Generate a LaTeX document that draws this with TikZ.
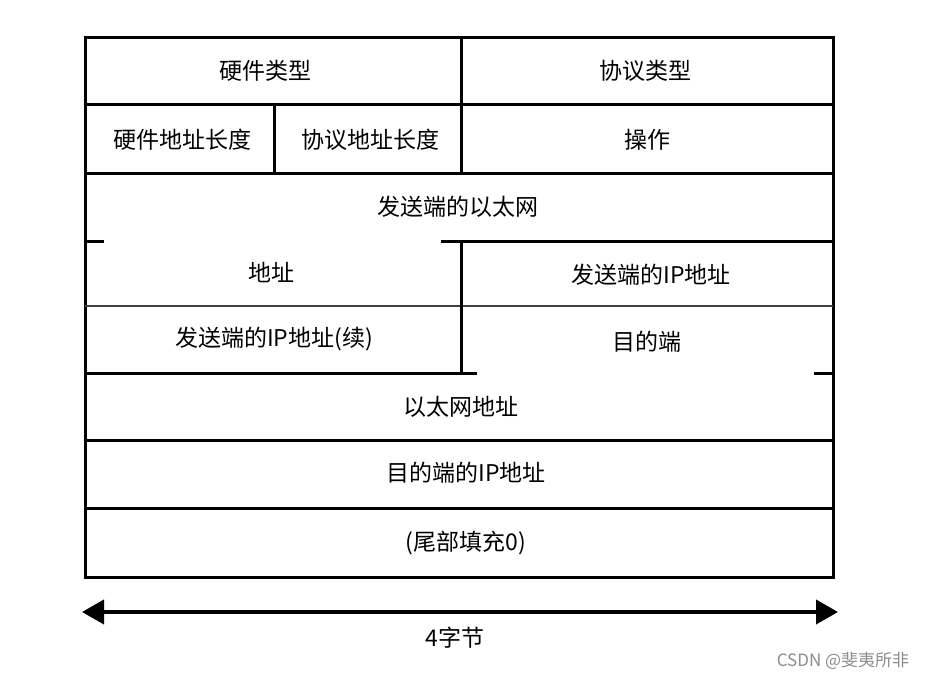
\documentclass[tikz,border=0pt]{standalone}
\usepackage{fontspec}
\setmainfont{Noto Sans CJK SC}
\usetikzlibrary{arrows.meta}
\tikzset{
	arpLabel/.style={
		font=\fontsize{23}{27}\selectfont,
		inner sep=0pt,
		anchor=center
	},
	arpLine/.style={line width=3pt, line cap=rect},
	arpThin/.style={line width=2pt, draw=black!75},
	arpSpan/.style={
		{Triangle[length=22pt,width=24pt]}-{Triangle[length=22pt,width=24pt]},
		line width=4pt
	},
	arpMark/.style={font=\fontsize{17}{20}\selectfont, text=black!45, inner sep=0pt}
}

\begin{document}
\begin{tikzpicture}[x=1pt, y=-1pt]

	\useasboundingbox (0,0) rectangle (925,680);

	% Frame and rows
	\draw[arpLine] (85,37) rectangle (833,577);
	\foreach \y in {104,173,440,508}
		\draw[arpLine] (85,\y) -- (833,\y);
	\draw[arpLine] (85,241) -- (102,241);
	\draw[arpLine] (442,241) -- (833,241);
	\draw[arpThin] (85,306) -- (833,306);
	\draw[arpLine] (85,373) -- (475,373);
	\draw[arpLine] (815,373) -- (833,373);

	% Column splits
	\draw[arpLine] (461,37) -- (461,173);
	\draw[arpLine] (274,104) -- (274,173);
	\draw[arpLine] (461,241) -- (461,373);

	% Fields
	\node[arpLabel] (hwtype) at (265,71) {硬件类型};
	\node[arpLabel] (prototype) at (645,71) {协议类型};
	\node[arpLabel] (hwlen) at (182,140) {硬件地址长度};
	\node[arpLabel] (protolen) at (370,140) {协议地址长度};
	\node[arpLabel] (op) at (647,140) {操作};
	\node[arpLabel] (srceth) at (458,207) {发送端的以太网};
	\node[arpLabel] (srcethaddr) at (271,272) {地址};
	\node[arpLabel] (srcip) at (651,275) {发送端的IP地址};
	\node[arpLabel] (srcipcont) at (274,339) {发送端的IP地址(续)};
	\node[arpLabel] (dstpart) at (647,342) {目的端};
	\node[arpLabel] (dsteth) at (461,407) {以太网地址};
	\node[arpLabel] (dstip) at (466,473) {目的端的IP地址};
	\node[arpLabel] (pad) at (466,543) {(尾部填充0)};

	% Width
	\coordinate (spanL) at (82,612);
	\coordinate (spanR) at (838,612);
	\draw[arpSpan] (spanL) -- (spanR);
	\node[arpLabel] (bytes) at (455,638) {4字节};

	\node[arpMark] (mark) at (843,661) {CSDN @斐夷所非};

\end{tikzpicture}
\end{document}
